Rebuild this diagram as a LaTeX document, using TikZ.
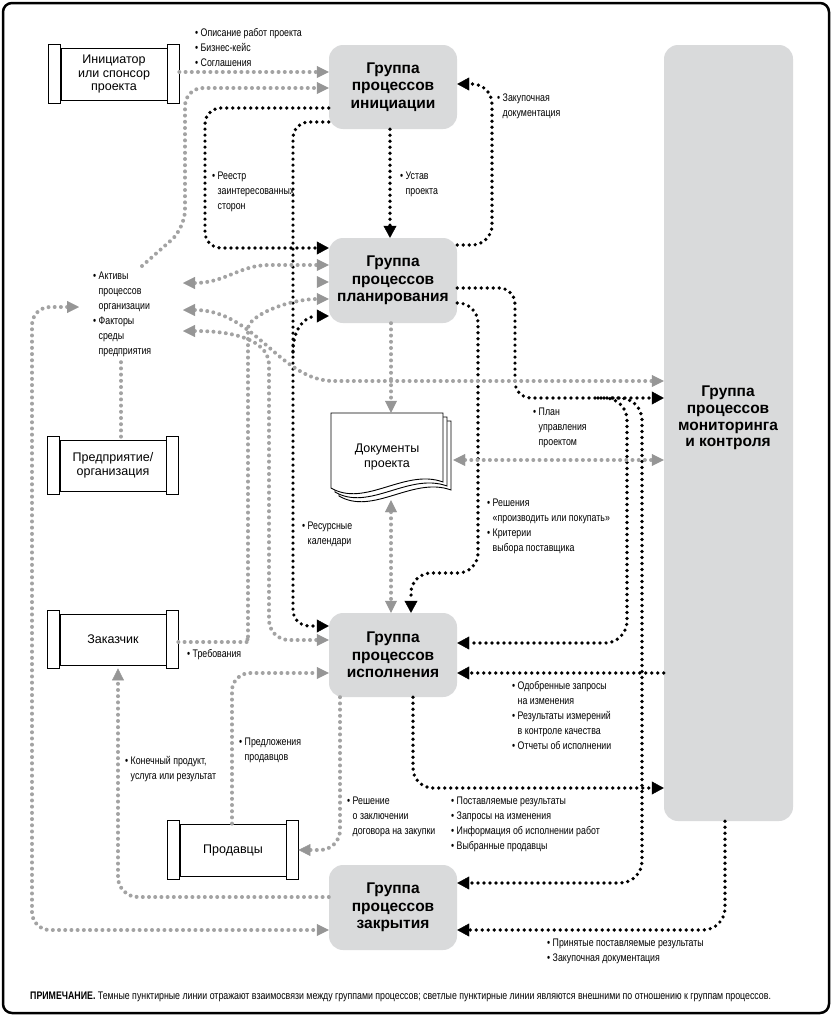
\documentclass[tikz,border=0pt]{standalone}
\usepackage{fontspec}
\setmainfont{Liberation Sans}
\newfontfamily\cond[FakeStretch=0.8]{Liberation Sans}
\usetikzlibrary{arrows.meta,calc}
\definecolor{grpfill}{RGB}{217,218,219}
\definecolor{ltdot}{RGB}{163,163,163}
\definecolor{ltarr}{RGB}{150,150,150}
\newcommand\bl{\makebox[5.5pt][l]{\textbullet}}
\newcommand\ind{\hspace*{5.5pt}}
\newcommand\lb[1]{\begin{tabular}[t]{@{}l@{}}#1\end{tabular}}
\newcommand\scrollcaps[1]{%
  \draw[capbox] ([xshift=-12pt,yshift=3pt]#1.north west) rectangle ([yshift=-3pt]#1.south west);
  \draw[capbox] ([yshift=3pt]#1.north east) rectangle ([xshift=12pt,yshift=-3pt]#1.south east);}
\tikzset{
  grp/.style={rectangle, rounded corners=14pt, fill=grpfill, inner sep=0pt, align=center,
    minimum width=128pt, font=\fontsize{15.5}{17.5}\selectfont\bfseries},
  extbox/.style={rectangle, draw, line width=0.75pt, fill=white, inner sep=0pt,
    minimum width=106pt, minimum height=52pt, align=center, font=\fontsize{12.5}{13.5}\selectfont},
  capbox/.style={draw, line width=0.75pt, fill=white},
  lab/.style={anchor=base west, inner sep=0pt, font=\cond\fontsize{11}{15}\selectfont},
  dk/.style={line width=3.7pt, dash pattern=on 0pt off 6pt, line cap=round, black, rounded corners=16pt},
  lt/.style={line width=4pt, dash pattern=on 0pt off 6.2pt, line cap=round, ltdot, rounded corners=16pt},
  dka/.style={-{Triangle[length=12pt,width=13pt,line width=0.4pt]}},
  lta/.style={-{Triangle[length=12pt,width=12pt,line width=0.4pt,color=ltarr,fill=ltarr]}},
  ltab/.style={{Triangle[length=12pt,width=12pt,line width=0.4pt,color=ltarr,fill=ltarr]}-{Triangle[length=12pt,width=12pt,line width=0.4pt,color=ltarr,fill=ltarr]}},
  docpage/.style={draw, line width=0.9pt, fill=white}
}
\begin{document}
\begin{tikzpicture}[x=1pt,y=-1pt]
\useasboundingbox (0,0) rectangle (832,1017);
\draw[line width=2.5pt, rounded corners=9pt] (3,3) rectangle (829,1013);

% process groups
\node[grp, minimum height=84pt] (init) at (393,87) {Группа\\процессов\\инициации};
\node[grp, minimum height=85pt] (plan) at (393,280.5) {Группа\\процессов\\планирования};
\node[grp, minimum height=84pt] (exec) at (393,655) {Группа\\процессов\\исполнения};
\node[grp, minimum height=85pt] (close) at (393,907.5) {Группа\\процессов\\закрытия};
\node[grp, minimum width=129pt, minimum height=776pt] (mon) at (728.5,433) {};
\node[align=center, inner sep=0pt, font=\fontsize{15.5}{16.8}\selectfont\bfseries] (monT) at (728,418) {Группа\\процессов\\мониторинга\\и контроля};

% external boxes
\node[extbox] (sponsor) at (114,74) {Инициатор\\или спонсор\\проекта};
\scrollcaps{sponsor}
\node[extbox, minimum height=51pt] (ent) at (113,465.5) {Предприятие/\\организация};
\scrollcaps{ent}
\node[extbox, minimum height=51pt] (cust) at (113,639.5) {Заказчик};
\scrollcaps{cust}
\node[extbox] (sellers) at (233,850) {Продавцы};
\scrollcaps{sellers}

% project documents
\draw[docpage, shift={(8,8)}] (331,413) -- (443,413) -- (443,482) .. controls (405,468) and (365,508) .. (331,488) -- cycle;
\draw[docpage, shift={(4,4)}] (331,413) -- (443,413) -- (443,482) .. controls (405,468) and (365,508) .. (331,488) -- cycle;
\draw[docpage] (331,413) -- (443,413) -- (443,482) .. controls (405,468) and (365,508) .. (331,488) -- cycle;
\node[inner sep=0pt, minimum width=112pt, minimum height=87pt, align=center,
  font=\fontsize{12.5}{15}\selectfont] (docs) at (387,456.5) {Документы\\проекта};

% dark connectors (between process groups)
\draw[dk,dka] ([xshift=-3pt]init.south) -- ([xshift=-3pt]plan.north);
\draw[dk,dka] ([yshift=-21pt]init.west) -- (205,108) -- (205,248) -- ([yshift=32.5pt]plan.west);
\draw[dk,dka] ([yshift=-35pt]init.west) -- (293,122) -- (293,626) -- ([yshift=29pt]exec.west);
\coordinate (brRes) at (293,352);
\draw[dk,dka] (brRes) .. controls (293,328) and (305,316) .. ([yshift=-35.5pt]plan.west);
\draw[dk,dka, rounded corners=20pt] ([yshift=35.5pt]plan.east) -- (492,245) -- (492,84) -- ([yshift=3pt]init.east);
\draw[dk,dka] ([yshift=-7.5pt]plan.east) -- (515,288) -- (515,398) -- ([yshift=35pt]mon.west);
\coordinate (brA) at (598,398);
\coordinate (brB) at (612,398);
\draw[dk,dka, rounded corners=22pt] (brA) -- (627,398) -- (627,643) -- ([yshift=12pt]exec.east);
\draw[dk,dka, rounded corners=22pt] (brB) -- (642,398) -- (642,883) -- ([yshift=24.5pt]close.east);
\draw[dk,dka] ([yshift=-240pt]mon.west) -- ([yshift=-18pt]exec.east);
\draw[dk,dka, rounded corners=20pt] ([xshift=20pt]exec.south) -- (413,788) -- ([yshift=-355pt]mon.west);
\draw[dk,dka, rounded corners=22pt] ([xshift=-3.5pt]mon.south) -- (725,930) -- ([yshift=-22.5pt]close.east);
\draw[dk,dka, rounded corners=20pt] ([yshift=-22.5pt]plan.east) -- (478,303) -- (478,573) -- (411,573) -- ([xshift=18pt]exec.north);

% light connectors (external)
\draw[lt,lta] ([xshift=12pt,yshift=2pt]sponsor.east) -- ([yshift=15pt]init.west);
\draw[lt,lta, rounded corners=18pt] (142,266) -- (185,228) -- (185,88) -- ([yshift=-1pt]init.west);
\draw[lt,ltab] (183,283) .. controls (225,283) and (240,265) .. (285,265) -- ([yshift=15.5pt]plan.west);
\fill[ltarr] ([xshift=-12pt,yshift=4.5pt]plan.west) -- ([yshift=-1.5pt]plan.west) -- ([xshift=-12pt,yshift=-7.5pt]plan.west) -- cycle;
\draw[lt,ltab] (183,310) .. controls (255,310) and (280,381) .. (350,381) -- ([yshift=52pt]mon.west);
\draw[lt,ltab, rounded corners=20pt] (183,331) .. controls (245,331) and (269,345) .. (269,385) -- (269,640) -- ([yshift=15pt]exec.west);
\draw[lt,lta] ([xshift=12pt,yshift=-2.5pt]cust.east) -- (232,642) .. controls (244,642) and (248,636) .. (248,625) -- (248,345) .. controls (248,315) and (290,299) .. ([yshift=-18.5pt]plan.west);
\draw[lt,lta] ([xshift=-2pt]plan.south) -- ([xshift=4pt]docs.north);
\draw[lt,ltab] ([xshift=10pt,yshift=-3.5pt]docs.east) -- ([yshift=-27pt]mon.west);
\draw[lt,ltab] ([xshift=4pt]docs.south) -- ([xshift=-2pt]exec.north);
\draw[lt,lta, rounded corners=20pt] ([xshift=-53pt]exec.south) -- (340,850) -- ([xshift=12pt]sellers.east);
\draw[lt,lta, rounded corners=18pt] ([xshift=-1pt]sellers.north) -- (232,673) -- ([yshift=-18pt]exec.west);
\draw[lt,lta, rounded corners=20pt] ([yshift=10.5pt]close.west) -- (118,897) -- ([xshift=5pt,yshift=-3pt]cust.south);
\draw[lt,ltab, rounded corners=18pt] (79,307) -- (32,307) -- (32,930) -- ([yshift=-22.5pt]close.west);
\draw[lt] ([xshift=8pt,yshift=3pt]ent.north) -- (121,358);

% labels
\node[lab] (lSponsor) at (195,36) {\lb{\bl Описание работ проекта\\ \bl Бизнес-кейс\\ \bl Соглашения}};
\node[lab] (lReestr) at (212,179) {\lb{\bl Реестр\\ \ind заинтересованных\\ \ind сторон}};
\node[lab] (lUstav) at (400,179) {\lb{\bl Устав\\ \ind проекта}};
\node[lab] (lZak) at (497,101) {\lb{\bl Закупочная\\ \ind документация}};
\node[lab] (lActive) at (93,279) {\lb{\bl Активы\\ \ind процессов\\ \ind организации\\ \bl Факторы\\ \ind среды\\ \ind предприятия}};
\node[lab] (lPlan) at (533,415) {\lb{\bl План\\ \ind управления\\ \ind проектом}};
\node[lab] (lRes) at (302,529) {\lb{\bl Ресурсные\\ \ind календари}};
\node[lab] (lMake) at (487,506) {\lb{\bl Решения\\ \ind «производить или покупать»\\ \bl Критерии\\ \ind выбора поставщика}};
\node[lab] (lReq) at (187,657) {\lb{\bl Требования}};
\node[lab] (lAppr) at (512,689) {\lb{\bl Одобренные запросы\\ \ind на изменения\\ \bl Результаты измерений\\ \ind в контроле качества\\ \bl Отчеты об исполнении}};
\node[lab] (lProp) at (239,745) {\lb{\bl Предложения\\ \ind продавцов}};
\node[lab] (lEnd) at (125,764) {\lb{\bl Конечный продукт,\\ \ind услуга или результат}};
\node[lab] (lDec) at (347,804) {\lb{\bl Решение\\ \ind о заключении\\ \ind договора на закупки}};
\node[lab] (lDel) at (451,804) {\lb{\bl Поставляемые результаты\\ \bl Запросы на изменения\\ \bl Информация об исполнении работ\\ \bl Выбранные продавцы}};
\node[lab] (lAcc) at (547,946) {\lb{\bl Принятые поставляемые результаты\\ \bl Закупочная документация}};
\node[lab] (note) at (30,999) {\textbf{ПРИМЕЧАНИЕ.} Темные пунктирные линии отражают взаимосвязи между группами процессов; светлые пунктирные линии являются внешними по отношению к группам процессов.};
\end{tikzpicture}
\end{document}
